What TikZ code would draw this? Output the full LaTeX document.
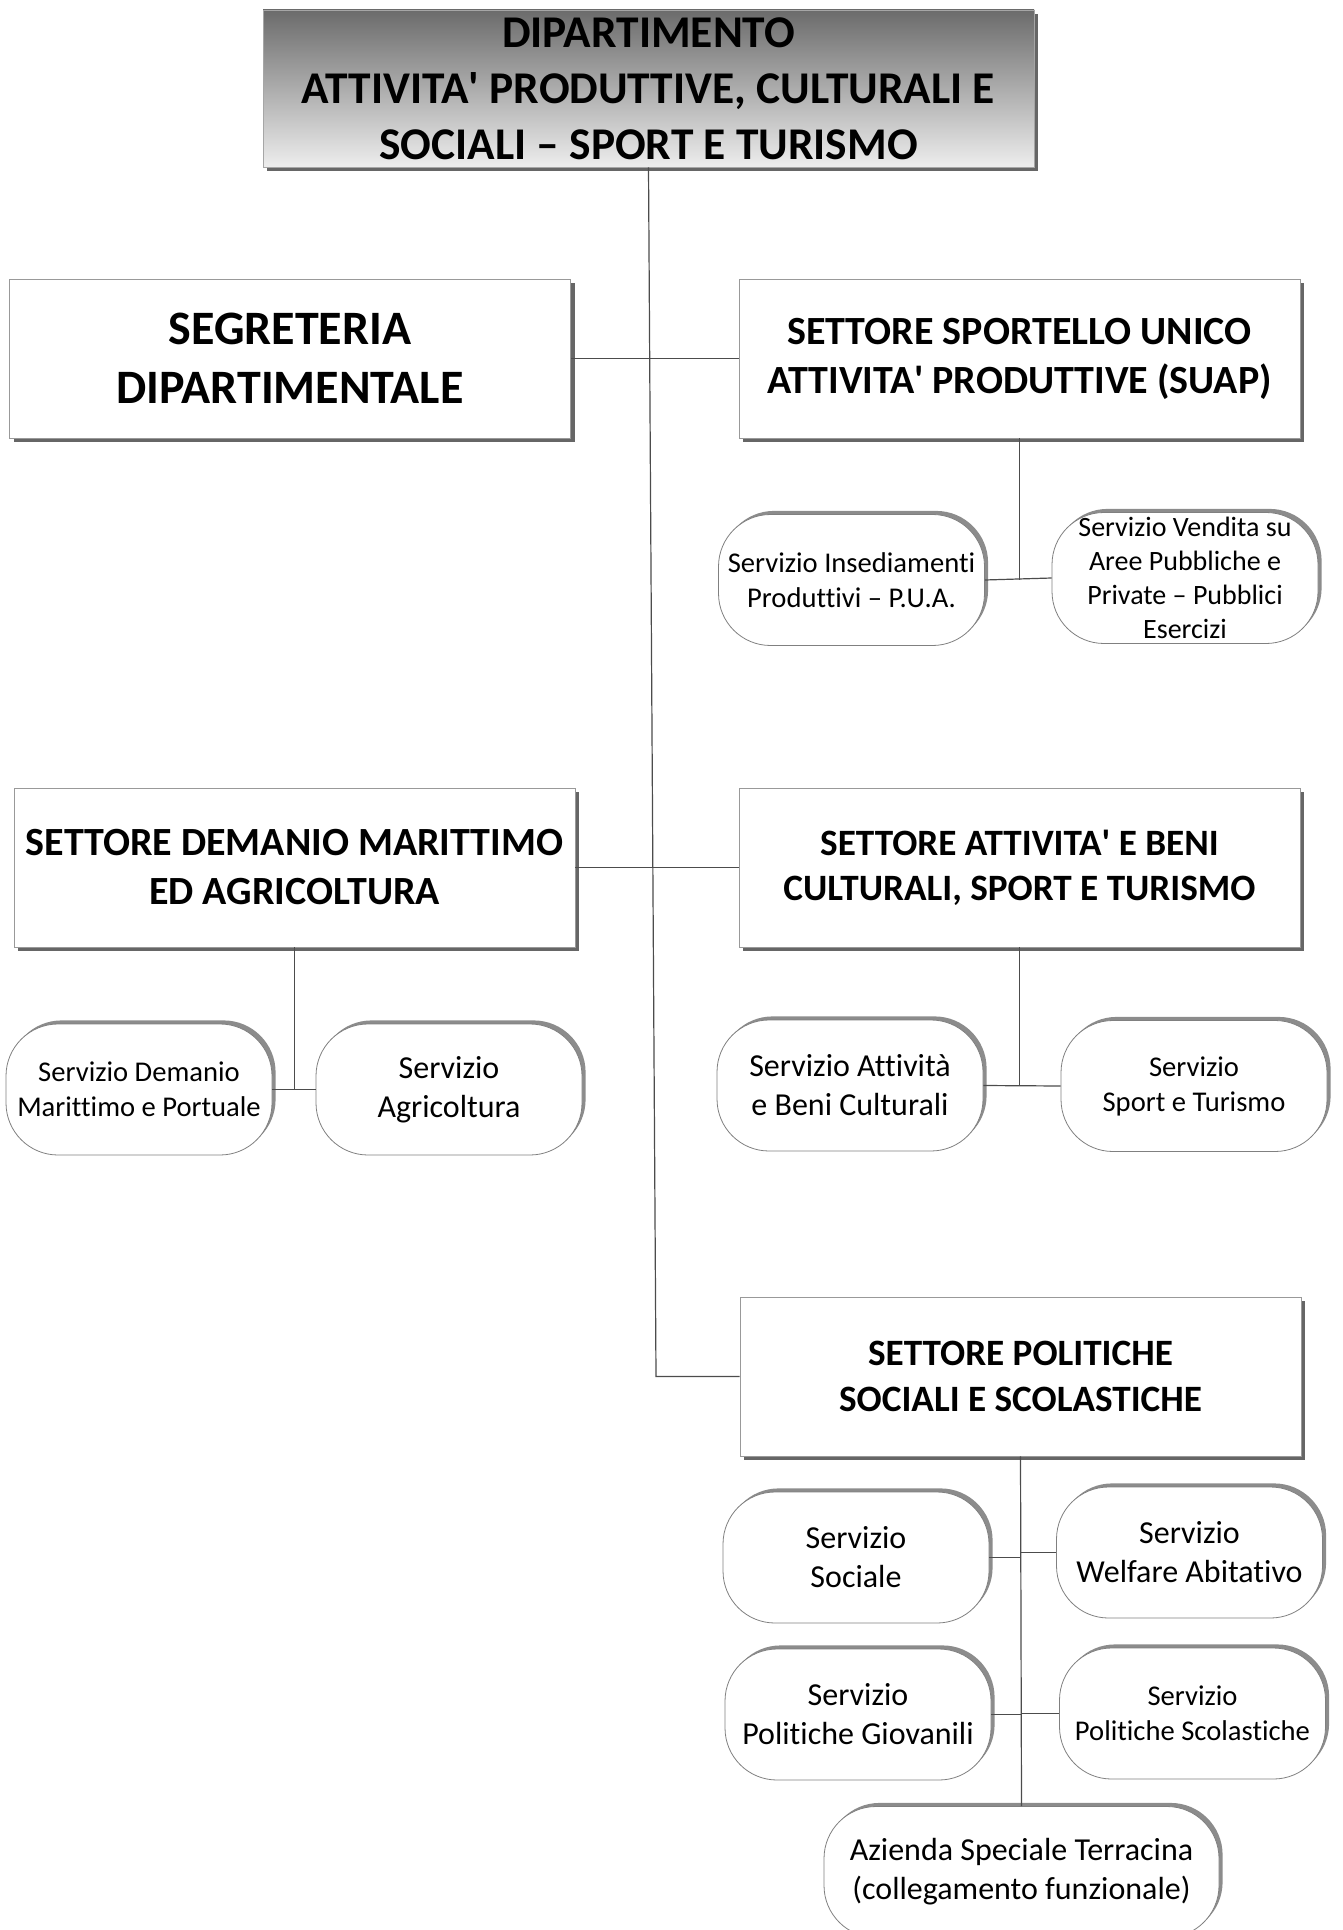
\documentclass[tikz,border=0pt]{standalone}
\usepackage{fontspec}
\setmainfont[Ligatures={TeX,NoCommon}]{Carlito}
\usepackage{tikz}
\usetikzlibrary{shadows}
\tikzstyle{settore} = [draw=gray!80, fill=white, minimum width=280.5pt, minimum height=79.5pt, align=center, font=\fontsize{20}{24.5}\selectfont\bfseries, drop shadow={shadow xshift=2pt, shadow yshift=-2pt, fill=black!60, opacity=1}]
\tikzstyle{servizio} = [draw=gray, fill=white, rounded corners=26pt, minimum width=133pt, minimum height=65.5pt, align=center, inner sep=0pt, drop shadow={shadow xshift=1.8pt, shadow yshift=1.8pt, fill=gray!90, opacity=1}]
\tikzstyle{linea} = [draw=black!70, line width=0.6pt]
\newcommand{\piccolo}{\fontsize{14.3}{17.5}\selectfont}
\newcommand{\medio}{\fontsize{16}{19.5}\selectfont}

\begin{document}
\begin{tikzpicture}[x=0.5pt, y=-0.5pt]
	\useasboundingbox (0,0) rectangle (1342,1930);
	% dipartimento
	\node (dip) at (648.5,88.5) [draw=gray!70, top color=black!58, bottom color=black!7, minimum width=385.5pt, minimum height=78.5pt, align=center, font=\fontsize{22.7}{28}\selectfont\bfseries, drop shadow={shadow xshift=2pt, shadow yshift=-2pt, fill=black!60, opacity=1}] {DIPARTIMENTO\\ATTIVITA\textquotesingle{} PRODUTTIVE, CULTURALI E\\SOCIALI -- SPORT E TURISMO};
	% settori
	\node[settore, font=\fontsize{24}{29.5}\selectfont\bfseries] (seg) at (290,358.5) {SEGRETERIA\\DIPARTIMENTALE};
	\node[settore] (suap) at (1019.5,358.5) {SETTORE SPORTELLO UNICO\\ATTIVITA\textquotesingle{} PRODUTTIVE (SUAP)};
	\node[settore] (dem) at (294.5,867.5) {SETTORE DEMANIO MARITTIMO\\ED AGRICOLTURA};
	\node[settore, font=\fontsize{18.6}{22.5}\selectfont\bfseries] (att) at (1019.5,867.5) {SETTORE ATTIVITA\textquotesingle{} E BENI\\CULTURALI, SPORT E TURISMO};
	\node[settore, font=\fontsize{18.6}{22.8}\selectfont\bfseries] (pol) at (1020.5,1376.5) {SETTORE POLITICHE\\SOCIALI E SCOLASTICHE};
	% servizi
	\node[servizio, font=\piccolo] (ins) at (851.5,580) {Servizio Insediamenti\\Produttivi -- P.U.A.};
	\node[servizio, font=\fontsize{14}{17}\selectfont] (ven) at (1185,578) {Servizio Vendita su\\Aree Pubbliche e\\Private -- Pubblici\\Esercizi};
	\node[servizio, font=\piccolo] (dmp) at (139,1089.5) {Servizio Demanio\\Marittimo e Portuale};
	\node[servizio, font=\medio] (agr) at (449,1089.5) {Servizio\\Agricoltura};
	\node[servizio, font=\medio] (abc) at (850,1085.5) {Servizio Attività\\e Beni Culturali};
	\node[servizio, font=\piccolo] (spt) at (1194,1086) {Servizio\\Sport e Turismo};
	\node[servizio, font=\medio] (soc) at (856,1557.5) {Servizio\\Sociale};
	\node[servizio, font=\medio] (wel) at (1189.5,1552.5) {Servizio\\Welfare Abitativo};
	\node[servizio, font=\medio] (gio) at (858,1714.5) {Servizio\\Politiche Giovanili};
	\node[servizio, font=\piccolo] (sco) at (1192.5,1713.5) {Servizio\\Politiche Scolastiche};
	\node[servizio, font=\medio, minimum width=197.5pt] (azi) at (1021.5,1872) {Azienda Speciale Terracina\\(collegamento funzionale)};
	% collegamenti
	\coordinate (j3) at (656,1376.5);
	\draw[linea] (dip.south) -- (j3) -- (pol.west);
	\draw[linea] (seg.east) -- (suap.west);
	\draw[linea] (dem.east) -- (att.west);
	\draw[linea] (suap.south) -- (suap.south |- ins.east);
	\draw[linea] (ins.east) -- (ven.west);
	\draw[linea] (dem.south) -- (dem.south |- dmp.east);
	\draw[linea] (dmp.east) -- (agr.west);
	\draw[linea] (att.south) -- (att.south |- abc.east);
	\draw[linea] (abc.east) -- (spt.west);
	\draw[linea] (pol.south) -- (azi.north);
	\draw[linea] (soc.east) -- (soc.east -| pol.south);
	\draw[linea] (wel.west) -- (wel.west -| pol.south);
	\draw[linea] (gio.east) -- (gio.east -| pol.south);
	\draw[linea] (sco.west) -- (sco.west -| pol.south);
\end{tikzpicture}
\end{document}
